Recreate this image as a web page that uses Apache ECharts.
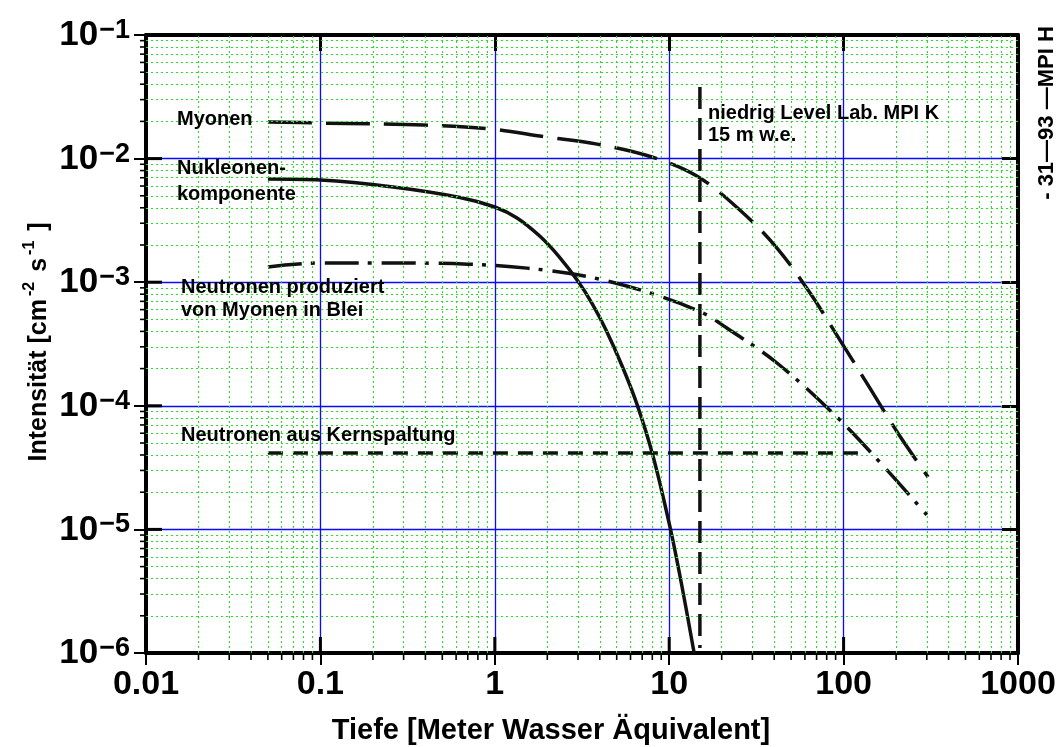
<!DOCTYPE html>
<html>
<head>
<meta charset="utf-8">
<title>Intensität vs. Tiefe</title>
<script src="https://cdn.jsdelivr.net/npm/echarts@6/dist/echarts.min.js"></script>
<style>
  html, body { margin: 0; padding: 0; background: #fff; }
  #chart { width: 1062px; height: 747px; }
</style>
</head>
<body>
<div id="chart"></div>
<script>
// Axis ranges and decade tick labels
const X_MIN = 0.01, X_MAX = 1000;
const Y_MIN = 1e-6, Y_MAX = 1e-1;
const xDecades = [0.01, 0.1, 1, 10, 100, 1000];
const xTickLabels = ['0.01', '0.1', '1', '10', '100', '1000'];
const yDecades = [1e-6, 1e-5, 1e-4, 1e-3, 1e-2, 1e-1];
const yTickExponents = ['6', '5', '4', '3', '2', '1'];
// log-paper subdivisions inside each decade
const minorMultipliers = [2, 3, 4, 5, 6, 7, 8, 9];

// Myonen (long dashes)
const myonenX = [0.05, 0.1, 0.39, 0.94, 1.94, 3.86, 7.96, 14.4, 25.4, 41.5, 64.1, 95.3, 141.6, 205, 305];
const myonenY = [0.0198, 0.0194, 0.0187, 0.0174, 0.0150, 0.0131, 0.0103, 0.00723, 0.00384, 0.00189, 8.2e-4, 3.4e-4, 1.39e-4, 6.0e-5, 2.65e-5];

// Nukleonenkomponente (solid)
const nukleonenX = [0.05, 0.1, 0.261, 0.631, 1.0, 1.341, 1.816, 2.334, 3.0, 3.608, 4.342, 5.363, 6.539, 8.074, 10.11, 11.84, 13.9];
const nukleonenY = [6.84e-3, 6.71e-3, 5.89e-3, 4.85e-3, 4.06e-3, 3.31e-3, 2.35e-3, 1.61e-3, 1.017e-3, 6.74e-4, 4.11e-4, 2.11e-4, 1.028e-4, 3.93e-5, 1.042e-5, 3.45e-6, 1.0e-6];

// Neutronen produziert von Myonen in Blei (dash-dot)
const neutronenMyX = [0.05, 0.1, 0.27, 0.7, 1.53, 3.51, 7.76, 15.6, 21.4, 41.5, 91.6, 177, 300];
const neutronenMyY = [1.33e-3, 1.43e-3, 1.43e-3, 1.40e-3, 1.30e-3, 1.10e-3, 8.18e-4, 5.64e-4, 4.26e-4, 2.22e-4, 8.1e-5, 3.03e-5, 1.31e-5];

// Neutronen aus Kernspaltung (short dashes, constant)
const spaltungX = [0.05, 130];
const spaltungY = [4.15e-5, 4.15e-5];

// Low level laboratory depth: 15 m w.e.
const labX = [15, 15];
const labY = [0.038, 1.1e-6];

const pairs = (xs, ys) => xs.map((x, i) => [x, ys[i]]);
const subdivide = decades => decades.slice(0, -1).flatMap(d => minorMultipliers.map(m => +(d * m).toPrecision(3)));
const xMinor = subdivide(xDecades);
const yMinor = subdivide(yDecades);

const FONT = '"Liberation Sans", Arial, sans-serif';
const INK = '#111';

// frame ticks: kind 0 = inward decade tick (bottom), 1 = inward decade tick (left),
// 2 = outward minor tick (bottom), 3 = outward minor tick (left)
const frameTickData = []
  .concat(xDecades.map(v => [v, Y_MIN, 0]))
  .concat(yDecades.map(v => [X_MIN, v, 1]))
  .concat(xMinor.map(v => [v, Y_MIN, 2]))
  .concat(yMinor.map(v => [X_MIN, v, 3]));

const chart = echarts.init(document.getElementById('chart'), null, { renderer: 'canvas' });

const gridLineMajor = { color: '#0a0aff', width: 1.3 };
const gridLineMinor = { color: '#22e022', width: 1, type: [2, 3] };

chart.setOption({
  animation: false,
  backgroundColor: '#fff',
  grid: { left: 146, right: 44, top: 35, bottom: 94, containLabel: false },
  xAxis: [
    {
      type: 'log', logBase: 10, min: X_MIN, max: X_MAX, position: 'bottom',
      axisLine: { show: true, onZero: false, lineStyle: { color: '#000', width: 4 } },
      axisTick: { show: true, inside: false, length: 12, lineStyle: { color: '#000', width: 2 } },
      splitLine: { show: true, lineStyle: gridLineMajor },
      axisLabel: {
        margin: 14,
        color: '#000',
        fontFamily: FONT,
        fontWeight: 'bold',
        fontSize: 34,
        lineHeight: 36,
        formatter: v => xTickLabels[Math.round(Math.log10(v)) + 2]
      }
    },
    {
      type: 'log', logBase: 10, min: X_MIN, max: X_MAX, position: 'top',
      axisLine: { show: true, onZero: false, lineStyle: { color: '#000', width: 4 } },
      axisTick: { show: true, inside: true, length: 16, lineStyle: { color: '#000', width: 3 } },
      axisLabel: { show: false },
      splitLine: { show: false }
    }
  ],
  yAxis: [
    {
      type: 'log', logBase: 10, min: Y_MIN, max: Y_MAX, position: 'left',
      axisLine: { show: true, onZero: false, lineStyle: { color: '#000', width: 4 } },
      axisTick: { show: true, inside: false, length: 12, lineStyle: { color: '#000', width: 2 } },
      splitLine: { show: true, lineStyle: gridLineMajor },
      axisLabel: {
        margin: 16,
        color: '#000',
        formatter: v => '{b|10}{s|\u2212' + yTickExponents[Math.round(Math.log10(v)) + 6] + '}',
        rich: {
          b: { fontFamily: FONT, fontWeight: 'bold', fontSize: 35, lineHeight: 36, color: '#000', verticalAlign: 'bottom' },
          s: { fontFamily: FONT, fontWeight: 'bold', fontSize: 27, lineHeight: 27, color: '#000', verticalAlign: 'top', padding: [0, 0, 15, 1] }
        }
      }
    },
    {
      type: 'log', logBase: 10, min: Y_MIN, max: Y_MAX, position: 'right',
      axisLine: { show: true, onZero: false, lineStyle: { color: '#000', width: 4 } },
      axisTick: { show: true, inside: true, length: 16, lineStyle: { color: '#000', width: 3 } },
      axisLabel: { show: false },
      splitLine: { show: false }
    }
  ],
  series: [
    {
      // dotted green log-paper lines
      name: 'log paper', type: 'line', xAxisIndex: 0, yAxisIndex: 0,
      data: [], symbol: 'none', z: 1, silent: true,
      markLine: {
        silent: true, animation: false,
        precision: 12,
        symbol: ['none', 'none'],
        label: { show: false },
        emphasis: { disabled: true },
        lineStyle: gridLineMinor,
        data: xMinor.map(v => ({ xAxis: v })).concat(yMinor.map(v => ({ yAxis: v })))
      }
    },
    {
      name: 'Myonen', type: 'line', xAxisIndex: 0, yAxisIndex: 0,
      data: pairs(myonenX, myonenY), smooth: 0.35, symbol: 'none', z: 4,
      lineStyle: { color: INK, width: 3.5, type: [44, 14] }
    },
    {
      name: 'Nukleonenkomponente', type: 'line', xAxisIndex: 0, yAxisIndex: 0,
      data: pairs(nukleonenX, nukleonenY), smooth: 0.35, symbol: 'none', z: 4,
      lineStyle: { color: INK, width: 3.5 }
    },
    {
      name: 'Neutronen produziert von Myonen in Blei', type: 'line', xAxisIndex: 0, yAxisIndex: 0,
      data: pairs(neutronenMyX, neutronenMyY), smooth: 0.35, symbol: 'none', z: 4,
      lineStyle: { color: INK, width: 3.5, type: [34, 9, 4, 10] }
    },
    {
      name: 'Neutronen aus Kernspaltung', type: 'line', xAxisIndex: 0, yAxisIndex: 0,
      data: pairs(spaltungX, spaltungY), symbol: 'none', z: 4,
      lineStyle: { color: INK, width: 3.5, type: [15, 10] }
    },
    {
      name: 'niedrig Level Lab. MPI K', type: 'line', xAxisIndex: 0, yAxisIndex: 0,
      data: pairs(labX, labY), symbol: 'none', z: 4,
      lineStyle: { color: INK, width: 3.5, type: [22, 9] }
    },
    {
      name: 'frame ticks', type: 'custom', xAxisIndex: 0, yAxisIndex: 0,
      data: frameTickData, silent: true, z: 6, clip: false,
      renderItem: (params, api) => {
        const p = api.coord([api.value(0), api.value(1)]);
        const kind = api.value(2);
        let shape, width = 3;
        if (kind === 0) shape = { x1: p[0], y1: p[1], x2: p[0], y2: p[1] - 16 };
        else if (kind === 1) shape = { x1: p[0], y1: p[1], x2: p[0] + 16, y2: p[1] };
        else if (kind === 2) { shape = { x1: p[0], y1: p[1], x2: p[0], y2: p[1] + 7 }; width = 1.6; }
        else { shape = { x1: p[0], y1: p[1], x2: p[0] - 6, y2: p[1] }; width = 1.6; }
        return { type: 'line', shape: shape, style: { stroke: '#000', lineWidth: width } };
      }
    }
  ],
  graphic: [
    {
      type: 'text', x: 177, y: 119, z: 10,
      style: { text: 'Myonen', font: 'bold 20px ' + FONT, fill: '#000', align: 'left', verticalAlign: 'middle', textAlign: 'left', textVerticalAlign: 'middle' }
    },
    {
      type: 'text', x: 177, y: 155, z: 10,
      style: { text: 'Nukleonen-\nkomponente', font: 'bold 20px ' + FONT, lineHeight: 26, fill: '#000', align: 'left', verticalAlign: 'top', textAlign: 'left', textVerticalAlign: 'top' }
    },
    {
      type: 'text', x: 181, y: 276, z: 10,
      style: { text: 'Neutronen produziert\nvon Myonen in Blei', font: 'bold 20px ' + FONT, lineHeight: 23, fill: '#000', align: 'left', verticalAlign: 'top', textAlign: 'left', textVerticalAlign: 'top' }
    },
    {
      type: 'text', x: 181, y: 435, z: 10,
      style: { text: 'Neutronen aus Kernspaltung', font: 'bold 20px ' + FONT, fill: '#000', align: 'left', verticalAlign: 'middle', textAlign: 'left', textVerticalAlign: 'middle' }
    },
    {
      type: 'text', x: 708, y: 102, z: 10,
      style: { text: 'niedrig Level Lab. MPI K\n15 m w.e.', font: 'bold 20px ' + FONT, lineHeight: 22, fill: '#000', align: 'left', verticalAlign: 'top', textAlign: 'left', textVerticalAlign: 'top' }
    },
    {
      type: 'text', x: 1047, y: 113, rotation: Math.PI / 2, z: 10,
      style: { text: '- 31\u201493 \u2014MPI H', font: 'bold 22px ' + FONT, fill: '#000', align: 'center', verticalAlign: 'middle', textAlign: 'center', textVerticalAlign: 'middle' }
    },
    {
      type: 'text', x: 551, y: 731, z: 10,
      style: { text: 'Tiefe [Meter Wasser \u00c4quivalent]', font: 'bold 29px ' + FONT, fill: '#000', align: 'center', verticalAlign: 'middle', textAlign: 'center', textVerticalAlign: 'middle' }
    },
    {
      type: 'text', x: 37, y: 342, rotation: Math.PI / 2, z: 10,
      style: {
        text: '{m|Intensit\u00e4t [cm}{s|-2}{m| s}{s|-1}{m| ]}',
        align: 'center', verticalAlign: 'middle', textAlign: 'center', textVerticalAlign: 'middle',
        fill: '#000',
        rich: {
          m: { fontFamily: FONT, fontWeight: 'bold', fontSize: 25, lineHeight: 30, fill: '#000', verticalAlign: 'bottom' },
          s: { fontFamily: FONT, fontWeight: 'bold', fontSize: 16, lineHeight: 16, fill: '#000', verticalAlign: 'top', padding: [0, 3, 12, 3] }
        }
      }
    }
  ]
});
</script>
</body>
</html>
